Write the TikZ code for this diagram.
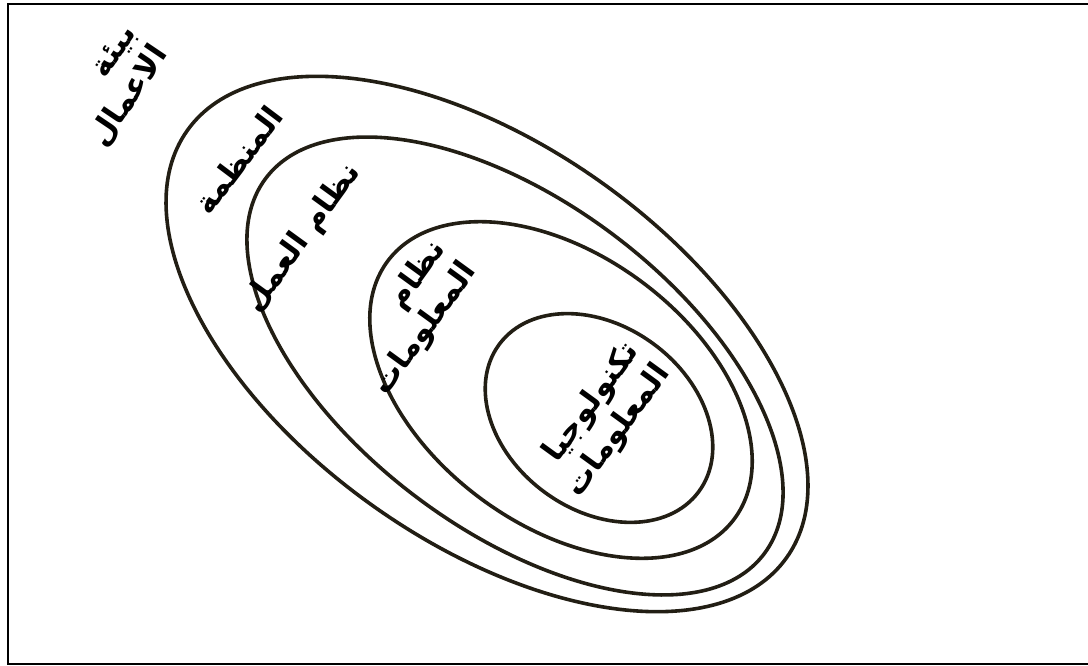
\documentclass[tikz,border=0pt]{standalone}
\usepackage{fontspec}
\usepackage{tikz}
\TeXXeTstate=1
\newfontfamily\arabicfont[Script=Arabic]{DejaVu Sans}
\definecolor{ringDark}{HTML}{221E14}
\tikzset{
  frame/.style={draw=black, line width=2.6pt},
  ring/.style={draw=ringDark, line width=3.6pt},
  lbl/.style={font=\arabicfont\bfseries\fontsize{31}{38}\selectfont, align=right, inner sep=0pt},
}

\begin{document}
\begin{tikzpicture}[x=1pt, y=-1pt]
  \useasboundingbox (0,0) rectangle (1088,666);
  \draw[frame] (8,4) rectangle (1092,664);
  % nested rings, outer to inner
  \draw[ring, shift={(487,344)}, rotate=-35.5] (0,0) ellipse (368 and 198);
  \draw[ring, shift={(515,366)}, rotate=-37] (0,0) ellipse (312 and 164);
  \draw[ring, shift={(561,390)}, rotate=-36.6] (0,0) ellipse (216 and 135);
  \draw[ring, shift={(599,418)}, rotate=-36.4] (0,0) ellipse (124 and 92);
  % labels
  \node[lbl, rotate=56] (env) at (115,87) {\beginR بيئة\endR\\\beginR الاعمال\endR};
  \node[lbl, rotate=53] (org) at (238,160) {\beginR المنظمة\endR};
  \node[lbl, rotate=54] (work) at (303,238) {\beginR نظام العمل\endR};
  \node[lbl, rotate=54] (infosys) at (410,318) {\beginR نظام\endR\\\beginR المعلومات\endR};
  \node[lbl, rotate=54] (infotech) at (603,420) {\beginR تكنولوجيا\endR\\\beginR المعلومات\endR};
\end{tikzpicture}
\end{document}
